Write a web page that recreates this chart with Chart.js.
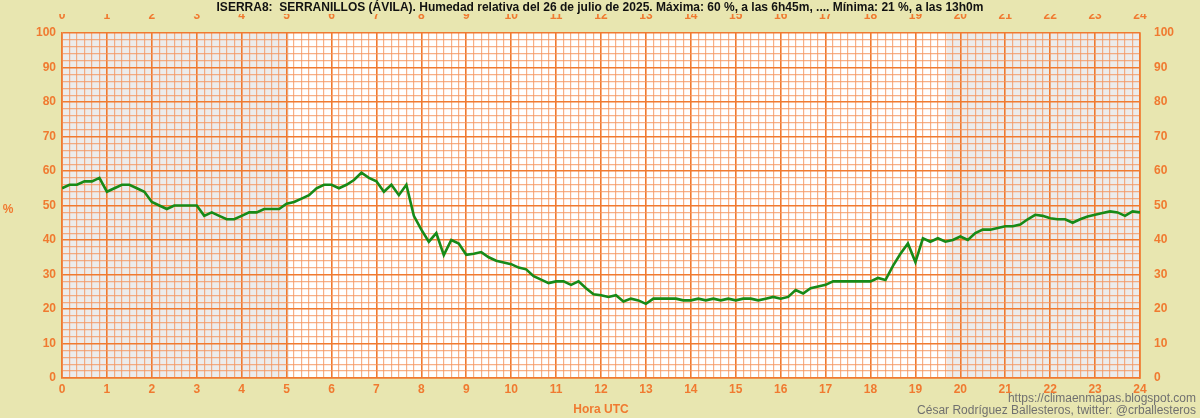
<!DOCTYPE html>
<html><head><meta charset="utf-8">
<script src="https://cdn.jsdelivr.net/npm/chart.js@4"></script>
<style>html,body{margin:0;padding:0;background:#e8e6b0;}#c{display:block;}</style>
</head><body>
<canvas id="c" width="1200" height="418"></canvas>
<script>
// humidity every 10 minutes, 00:00 .. 24:00 UTC
const humidity = [
55,56,56,57,57,58,
54,55,56,56,55,54,
51,50,49,50,50,50,
50,47,48,47,46,46,
47,48,48,49,49,49,
50.5,51,52,53,55,56,
56,55,56,57.4,59.5,58,
57,54,56,53,56,47,
43,39.5,42,35.6,40,39,
35.7,36,36.5,35,34,33.5,
33,32,31.5,29.5,28.5,27.5,
28,28,27,28,26,24.3,
24,23.5,24,22.2,23,22.5,
21.5,23,23,23,23,22.5,
22.5,23,22.5,23,22.5,23,
22.5,23,23,22.5,23,23.5,
23,23.5,25.5,24.5,26,26.5,
27,28,28,28,28,28,
28,29,28.4,32.5,36,39,
33.6,40.5,39.5,40.5,39.5,40,
41,40,42,43,43,43.5,
44,44,44.5,46,47.3,47,
46.3,46,46,45,46,46.8,
47.3,47.8,48.3,48,47,48.3,
48
];
const hourTicks = ['0','1','2','3','4','5','6','7','8','9','10','11','12','13','14','15','16','17','18','19','20','21','22','23','24'];
const nightBands = [[0,30.3],[118.2,144]]; // in 10-min steps
const titleText = 'ISERRA8:  SERRANILLOS (ÁVILA). Humedad relativa del 26 de julio de 2025. Máxima: 60 %, a las 6h45m, .... Mínima: 21 %, a las 13h0m';

const ORANGE='#f07a30', MINOR='rgba(244,150,95,0.75)', FONT='"Liberation Sans", Arial, sans-serif';
const gridX = {color:c=>c.tick && c.tick.value%6===0?ORANGE:MINOR, lineWidth:c=>c.tick && c.tick.value%6===0?1.6:1.2, drawTicks:false};
const gridY = {color:c=>c.tick && c.tick.value%10===0?ORANGE:MINOR, lineWidth:c=>c.tick && c.tick.value%10===0?1.6:1.2, drawTicks:false};
const tickFont={family:FONT,size:12,weight:'bold'};
const xTicks={stepSize:1,autoSkip:false,maxRotation:0,color:ORANGE,font:tickFont,padding:4,
  callback:v=>v%6===0?hourTicks[v/6]:''};
const yTicks={stepSize:2,autoSkip:false,color:ORANGE,font:tickFont,padding:6,callback:v=>v%10===0?String(v):''};

const bgPlugin={id:'bg',beforeDraw(ch){
  const {ctx,chartArea:a,scales:{x}}=ch;
  ctx.save();ctx.fillStyle='#ffffff';ctx.fillRect(a.left,a.top,a.right-a.left,a.bottom-a.top);
  ctx.fillStyle='#ececec';
  nightBands.forEach(b=>{const l=x.getPixelForValue(b[0]),r=x.getPixelForValue(b[1]);ctx.fillRect(l,a.top,r-l,a.bottom-a.top);});
  ctx.restore();},
 afterDraw(ch){
  const {ctx,chartArea:a}=ch;ctx.save();
  ctx.fillStyle='#111';ctx.font='bold 12px '+FONT;ctx.textAlign='center';ctx.textBaseline='middle';
  ctx.fillText(titleText,600,8);
  ctx.fillStyle=ORANGE;ctx.fillText('%',8,210);
  ctx.fillText('Hora UTC',(a.left+a.right)/2,410);
  ctx.fillStyle='#707070';ctx.font='12px '+FONT;ctx.textAlign='right';
  ctx.fillText('https://climaenmapas.blogspot.com',1196,399);
  ctx.fillText('César Rodríguez Ballesteros, twitter: @crballesteros',1196,411);
  ctx.restore();}};

new Chart(document.getElementById('c'),{
  type:'line',
  data:{datasets:[{data:humidity.map((v,i)=>({x:i,y:v})),borderColor:'#178a17',borderWidth:2.6,pointRadius:0,tension:0,fill:false}]},
  options:{responsive:false,animation:false,layout:{padding:{top:14}},
    plugins:{legend:{display:false},tooltip:{enabled:false}},
    scales:{
      x:{type:'linear',position:'bottom',min:0,max:144,grid:gridX,border:{color:ORANGE,width:1.6},ticks:xTicks,afterFit:s=>{s.height=40;}},
      x2:{type:'linear',position:'top',min:0,max:144,grid:{display:false},border:{display:false},ticks:{...xTicks,padding:2},afterFit:s=>{s.height=19;}},
      y:{min:0,max:100,position:'left',grid:gridY,border:{color:ORANGE,width:1.6},ticks:yTicks,afterFit:s=>{s.width=62;}},
      y2:{min:0,max:100,position:'right',grid:{display:false},border:{color:ORANGE,width:1.6},ticks:{...yTicks},afterFit:s=>{s.width=60;}}
    }},
  plugins:[bgPlugin]
});
</script>
</body></html>
